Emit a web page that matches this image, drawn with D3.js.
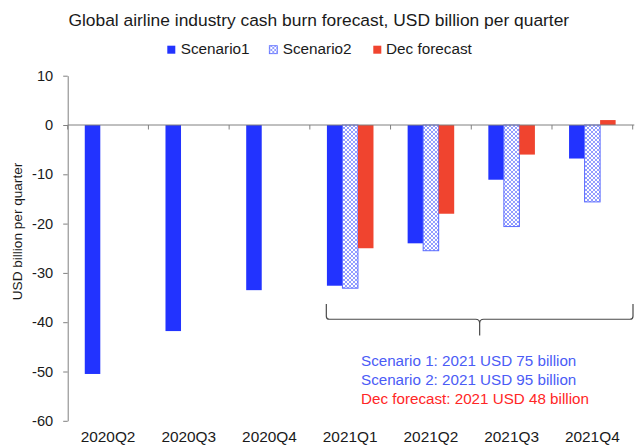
<!DOCTYPE html>
<html>
<head>
<meta charset="utf-8">
<script src="https://cdn.jsdelivr.net/npm/d3@7"></script>
<style>
  html, body { margin: 0; padding: 0; background: #fff; }
  svg { display: block; font-family: "Liberation Sans", Arial, sans-serif; }
</style>
</head>
<body>
<svg id="chart" width="636" height="446"></svg>
<script>
// Quarterly cash burn, USD billion
const categories = ["2020Q2", "2020Q3", "2020Q4", "2021Q1", "2021Q2", "2021Q3", "2021Q4"];
const seriesNames = ["Scenario1", "Scenario2", "Dec forecast"];
const scenario1 = [-50.5, -41.8, -33.5, -32.6, -24.0, -11.1, -6.8];
const scenario2 = [null, null, null, -33.1, -25.5, -20.6, -15.6];
const decForecast = [null, null, null, -25.0, -18.0, -6.0, 1.0];
const yTicks = [10, 0, -10, -20, -30, -40, -50, -60];
const notes = [
  "Scenario 1: 2021 USD 75 billion",
  "Scenario 2: 2021 USD 95 billion",
  "Dec forecast: 2021 USD 48 billion"
];

const seriesValues = [scenario1, scenario2, decForecast];
const colors = { "Scenario1": "#2233ff", "Scenario2": "url(#hatch)", "Dec forecast": "#f0442f" };

const svg = d3.select("#chart");

// crosshatch fill for Scenario2
const defs = svg.append("defs");
const pat = defs.append("pattern")
  .attr("id", "hatch")
  .attr("patternUnits", "userSpaceOnUse")
  .attr("width", 4).attr("height", 4);
pat.append("rect").attr("width", 4).attr("height", 4).attr("fill", "#ffffff");
pat.append("path").attr("d", "M0,0 L4,4 M4,0 L0,4")
  .attr("stroke", "#7f8cff").attr("stroke-width", 0.85);

const x0 = d3.scaleBand().domain(categories).range([67.7, 632.7]).padding(0);
const x1 = d3.scaleBand().domain(seriesNames).range([0, x0.bandwidth()])
  .paddingInner(0).paddingOuter(1.1);
const y = d3.scaleLinear().domain([-60, 10]).range([420.8, 75.7]);

// title
svg.append("text")
  .attr("x", 318.8).attr("y", 25.5)
  .attr("text-anchor", "middle")
  .attr("font-size", 17.4)
  .attr("fill", "#1a1a1a")
  .text("Global airline industry cash burn forecast, USD billion per quarter");

// legend
const legendX = [167.3, 269.3, 373.3];
const legend = svg.append("g");
seriesNames.forEach((s, i) => {
  const g = legend.append("g").attr("transform", `translate(${legendX[i]},0)`);
  g.append("rect")
    .attr("x", 0).attr("y", 45.7).attr("width", 8).attr("height", 8)
    .attr("fill", colors[s])
    .attr("stroke", s === "Scenario2" ? "#5a6bff" : "none")
    .attr("stroke-width", 0.8);
  g.append("text")
    .attr("x", i === 2 ? 12.7 : 13.4).attr("y", 54.3)
    .attr("font-size", 15.3)
    .attr("fill", "#1a1a1a")
    .text(s);
});

// bars
const rows = [];
categories.forEach((c, ci) => {
  seriesNames.forEach((s, si) => {
    const v = seriesValues[si][ci];
    if (v !== null) rows.push({ cat: c, series: s, value: v });
  });
});

svg.append("g").selectAll("rect")
  .data(rows)
  .join("rect")
  .attr("x", d => x0(d.cat) + x1(d.series))
  .attr("width", x1.bandwidth())
  .attr("y", d => y(Math.max(0, d.value)))
  .attr("height", d => Math.abs(y(d.value) - y(0)))
  .attr("fill", d => colors[d.series])
  .attr("stroke", d => d.series === "Scenario2" ? "#5a6bff" : "none")
  .attr("stroke-width", 1);

// y axis (plain hyphen for negatives)
const yAxis = svg.append("g")
  .attr("transform", `translate(${x0.range()[0]},0)`)
  .call(d3.axisLeft(y).tickValues(yTicks).tickFormat(d => String(d))
    .tickSize(4.5).tickPadding(10).tickSizeOuter(0));
yAxis.select(".domain").attr("stroke", "#808080");
yAxis.selectAll(".tick line").attr("stroke", "#808080");
yAxis.selectAll(".tick text")
  .attr("font-size", 14.6)
  .attr("font-family", "\"Liberation Sans\", Arial, sans-serif")
  .attr("fill", "#1a1a1a");

// category axis along zero
const xAxis = svg.append("g")
  .attr("transform", `translate(0,${y(0)})`);
const bounds = x0.domain().map(c => x0(c)).concat([x0.range()[1]]);
xAxis.append("line")
  .attr("x1", x0.range()[0]).attr("x2", x0.range()[1] + 1.6)
  .attr("stroke", "#808080");
xAxis.selectAll(".bound")
  .data(bounds)
  .join("line")
  .attr("class", "bound")
  .attr("x1", d => d).attr("x2", d => d)
  .attr("y1", 0).attr("y2", 4.5)
  .attr("stroke", "#808080");

// category labels at the bottom
svg.append("g").selectAll("text")
  .data(categories)
  .join("text")
  .attr("x", d => x0(d) + x0.bandwidth() / 2)
  .attr("y", 442)
  .attr("text-anchor", "middle")
  .attr("font-size", 15.4)
  .attr("fill", "#1a1a1a")
  .text(d => d);

// y axis title
svg.append("text")
  .attr("transform", "translate(21.5,231.5) rotate(-90)")
  .attr("text-anchor", "middle")
  .attr("font-size", 13.6)
  .attr("fill", "#1a1a1a")
  .text("USD billion per quarter");

// brace spanning the 2021 quarters
const bl = x0("2021Q1") + x1("Scenario1") - 0.6;
const br = x0.range()[1] + 0.3;
const bm = (bl + br) / 2;
const bt = y(-36.3), bb = y(-39.4), bp = y(-42.7);
svg.append("path")
  .attr("d", `M${bl},${bt} L${bl},${bb - 3} Q${bl},${bb} ${bl + 3},${bb}
              L${bm - 4},${bb} Q${bm},${bb} ${bm},${bb + 4} L${bm},${bp}
              M${bm},${bb + 4} Q${bm},${bb} ${bm + 4},${bb}
              L${br - 3},${bb} Q${br},${bb} ${br},${bb - 3} L${br},${bt}`)
  .attr("fill", "none")
  .attr("stroke", "#4a4a4a")
  .attr("stroke-width", 1.2);

// annual totals
const noteColors = ["#4b5cf6", "#4b5cf6", "#ff2626"];
svg.append("g").selectAll("text")
  .data(notes)
  .join("text")
  .attr("x", 361)
  .attr("y", (d, i) => 366 + i * 19)
  .attr("font-size", 15.2)
  .attr("fill", (d, i) => noteColors[i])
  .text(d => d);
</script>
</body>
</html>
